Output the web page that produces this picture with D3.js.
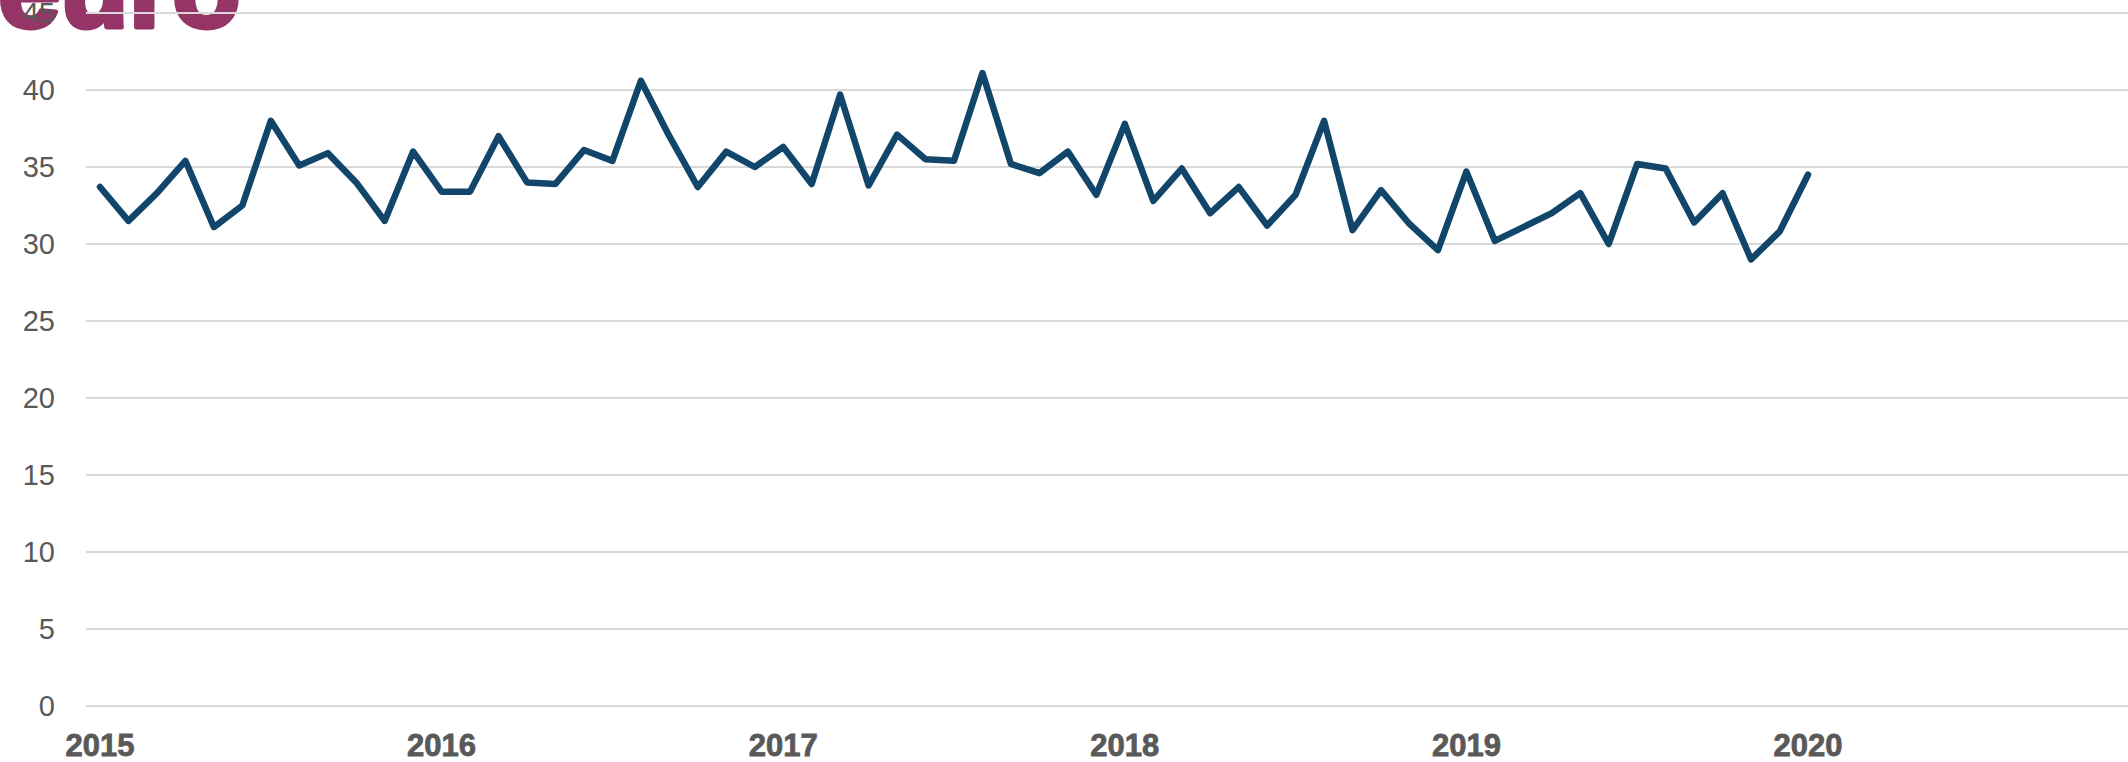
<!DOCTYPE html>
<html>
<head>
    <title>euro</title>
    <script src="https://d3js.org/d3.v7.min.js"></script>
    <style>
        body {
            margin: 0;
            padding: 0;
            background: white;
            overflow: hidden;
        }
        .grid-line {
            stroke: #d9d9d9;
            stroke-width: 2;
        }
        .y-label {
            font-family: "Liberation Sans", Arial, sans-serif;
            font-size: 29px;
            fill: #595959;
            text-anchor: end;
        }
        .x-label {
            font-family: "Liberation Sans", Arial, sans-serif;
            font-weight: bold;
            font-size: 31px;
            fill: #595959;
            stroke: #595959;
            stroke-width: 0.8;
            text-anchor: middle;
        }
        .price-line {
            fill: none;
            stroke: #12456a;
            stroke-width: 6.5;
            stroke-linejoin: round;
            stroke-linecap: round;
        }
        .chart-title {
            font-family: "Liberation Sans", Arial, sans-serif;
            font-weight: bold;
            font-size: 112px;
            fill: #953466;
            stroke: #953466;
            stroke-width: 5;
            stroke-linejoin: round;
        }
    </style>
</head>
<body>
    <svg id="chart" width="2128" height="762"></svg>
    <script>
        // monthly values, Jan 2015 .. Jan 2020
        const values = [
            33.7, 31.5, 33.3, 35.4, 31.1, 32.5, 38.0, 35.1, 35.9, 34.0, 31.5, 36.0,
            33.4, 33.4, 37.0, 34.0, 33.9, 36.1, 35.4, 40.6, 37.0, 33.7, 36.0, 35.0,
            36.3, 33.9, 39.7, 33.8, 37.1, 35.5, 35.4, 41.1, 35.2, 34.6, 36.0, 33.2,
            37.8, 32.8, 34.9, 32.0, 33.7, 31.2, 33.2, 38.0, 30.9, 33.5, 31.3, 29.6,
            34.7, 30.2, 31.1, 32.0, 33.3, 30.0, 35.2, 34.9, 31.4, 33.3, 29.0, 30.8,
            34.5
        ];
        const years = ['2015', '2016', '2017', '2018', '2019', '2020'];
        const yTicks = [0, 5, 10, 15, 20, 25, 30, 35, 40, 45];
        const title = 'euro';

        const svg = d3.select('#chart');
        const width = 2128;

        const x = d3.scaleLinear()
            .domain([0, values.length - 1])
            .range([100, 1808]);

        const y = d3.scaleLinear()
            .domain([0, 45])
            .range([706, 13]);

        // title sits behind the grid and top label, partly cut off
        svg.append('text')
            .attr('class', 'chart-title')
            .attr('x', -2)
            .attr('y', 27)
            .text(title);

        // gridlines
        svg.append('g')
            .selectAll('line')
            .data(yTicks)
            .join('line')
            .attr('class', 'grid-line')
            .attr('x1', 86)
            .attr('x2', width)
            .attr('y1', d => y(d))
            .attr('y2', d => y(d));

        svg.append('g')
            .selectAll('text')
            .data(yTicks)
            .join('text')
            .attr('class', 'y-label')
            .attr('x', 55)
            .attr('y', d => y(d))
            .attr('dy', '0.36em')
            .text(d => d);

        svg.append('g')
            .selectAll('text')
            .data(years)
            .join('text')
            .attr('class', 'x-label')
            .attr('x', (d, i) => x(i * 12))
            .attr('y', 756)
            .text(d => d);

        const line = d3.line()
            .x((d, i) => x(i))
            .y(d => y(d));

        svg.append('path')
            .datum(values)
            .attr('class', 'price-line')
            .attr('d', line);
    </script>
</body>
</html>
